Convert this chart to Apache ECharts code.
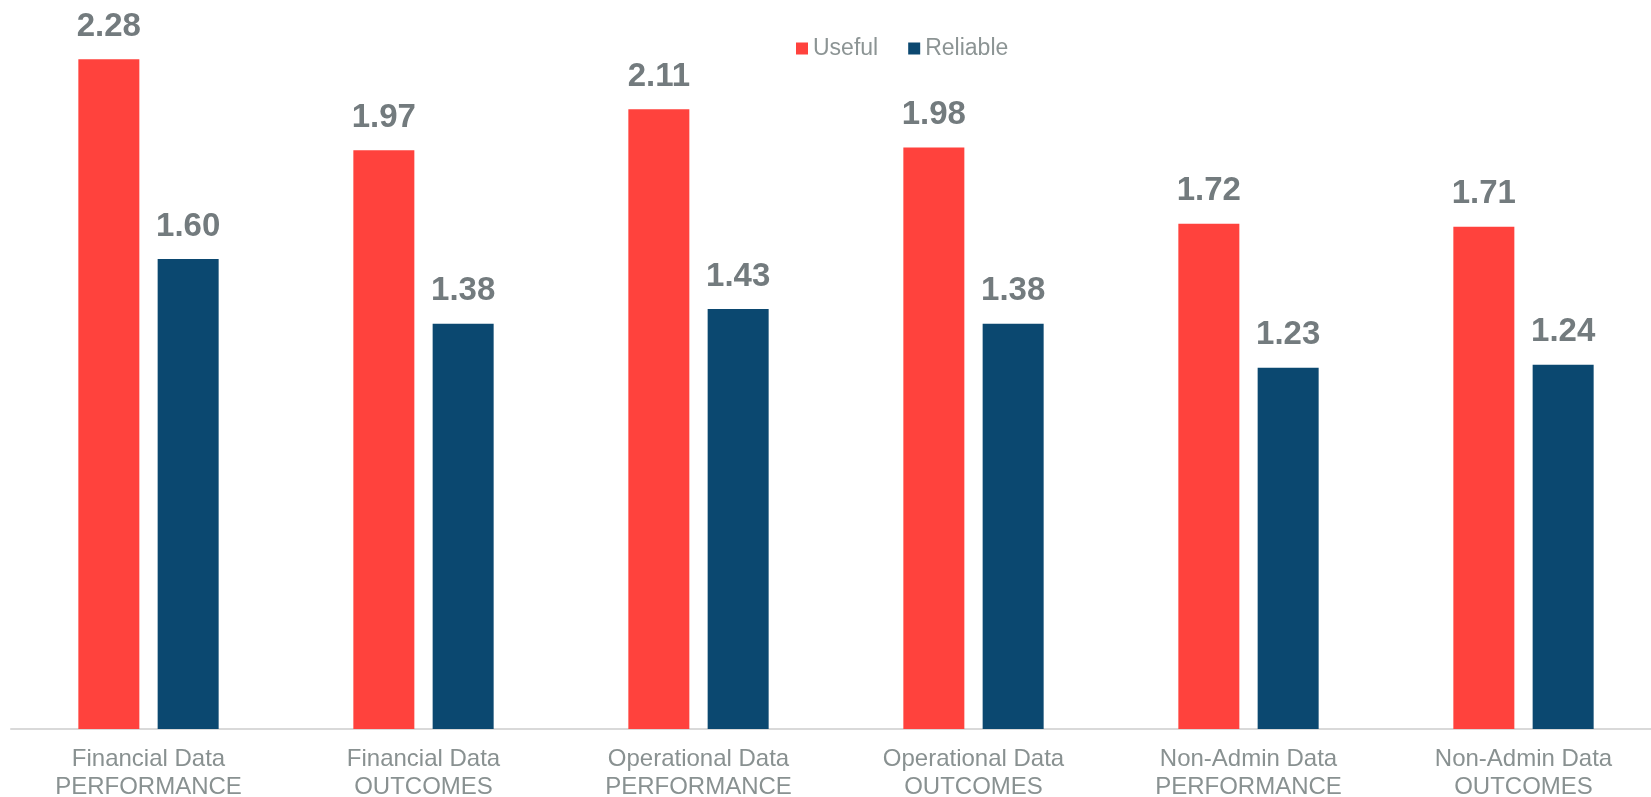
<!DOCTYPE html>
<html>
<head>
<meta charset="utf-8">
<script src="https://cdn.jsdelivr.net/npm/echarts@6/dist/echarts.min.js"></script>
<style>
html,body{margin:0;padding:0;background:#fff;}
#chart{width:1651px;height:797px;}
</style>
</head>
<body>
<div id="chart"></div>
<script>
const categories = [
  'Financial Data\nPERFORMANCE',
  'Financial Data\nOUTCOMES',
  'Operational Data\nPERFORMANCE',
  'Operational Data\nOUTCOMES',
  'Non-Admin Data\nPERFORMANCE',
  'Non-Admin Data\nOUTCOMES'
];
const seriesNames = ['Useful', 'Reliable'];
const usefulValues = [2.28, 1.97, 2.11, 1.98, 1.72, 1.71];
const reliableValues = [1.60, 1.38, 1.43, 1.38, 1.23, 1.24];

const chart = echarts.init(document.getElementById('chart'));
const labelStyle = {
  show: true,
  position: 'top',
  distance: 16,
  fontFamily: '"Liberation Sans Narrow", "Arial Narrow", "Liberation Sans", Arial, sans-serif',
  fontWeight: 'bold',
  fontSize: 33,
  color: '#737b7e',
  formatter: p => p.value.toFixed(2)
};
chart.setOption({
  animation: false,
  backgroundColor: '#ffffff',
  legend: {
    data: seriesNames,
    top: 32,
    left: 791,
    icon: 'rect',
    itemWidth: 12,
    itemHeight: 12,
    itemGap: 30,
    textStyle: {
      fontFamily: '"Liberation Sans", Arial, sans-serif',
      fontSize: 23,
      color: '#8c9494'
    }
  },
  grid: {
    left: 11,
    top: 24,
    right: -10,
    bottom: 68,
    containLabel: false,
    outerBoundsMode: 'none'
  },
  xAxis: {
    type: 'category',
    data: categories,
    axisLine: { lineStyle: { color: '#d9d9d9', width: 2 } },
    axisTick: { show: false },
    axisLabel: {
      interval: 0,
      margin: 16,
      fontFamily: '"Liberation Sans", Arial, sans-serif',
      fontSize: 24,
      lineHeight: 28,
      color: '#899191'
    }
  },
  yAxis: {
    type: 'value',
    min: 0,
    max: 2.4,
    show: false,
    splitLine: { show: false }
  },
  series: [
    {
      name: seriesNames[0],
      type: 'bar',
      data: usefulValues,
      barWidth: 61,
      barGap: '30%',
      itemStyle: { color: '#ff423d' },
      label: labelStyle
    },
    {
      name: seriesNames[1],
      type: 'bar',
      data: reliableValues,
      barWidth: 61,
      barGap: '30%',
      itemStyle: { color: '#0b4870' },
      label: labelStyle
    }
  ]
});
</script>
</body>
</html>
